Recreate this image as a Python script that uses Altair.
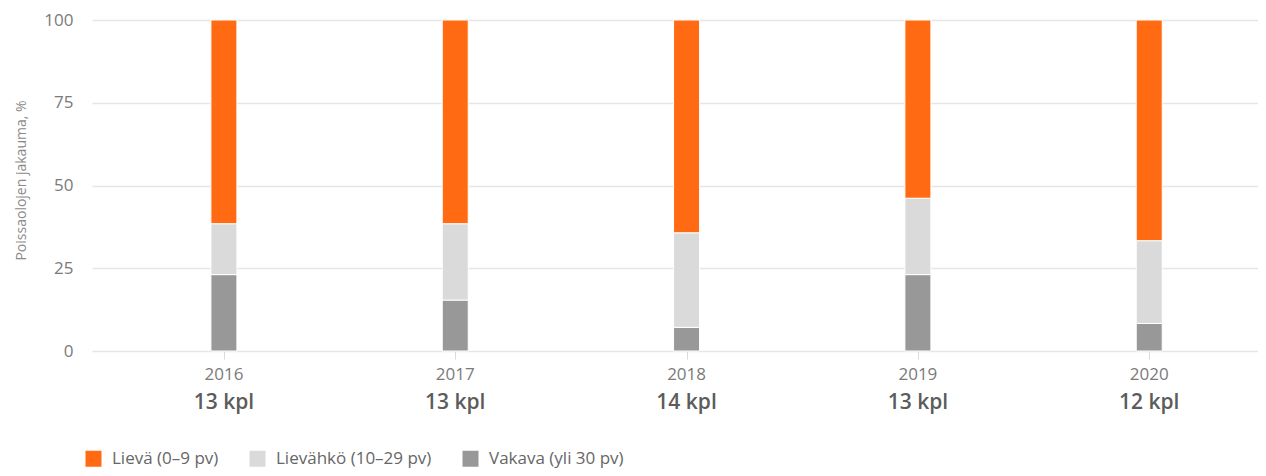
import altair as alt
import pandas as pd

years = [2016, 2017, 2018, 2019, 2020]
totals = [13, 13, 14, 13, 12]
kpl_labels = ["13 kpl", "13 kpl", "14 kpl", "13 kpl", "12 kpl"]
categories = ["Lievä (0–9 pv)", "Lievähkö (10–29 pv)", "Vakava (yli 30 pv)"]
colors = ["#ff6a13", "#dadada", "#989898"]
# counts of absences per category for each year
lieva = [8, 8, 9, 7, 8]
lievahko = [2, 3, 4, 3, 3]
vakava = [3, 2, 1, 3, 1]

rows = []
for i, y in enumerate(years):
    for cat, vals, order in [(categories[2], vakava, 0), (categories[1], lievahko, 1), (categories[0], lieva, 2)]:
        rows.append({"year": y, "cat": cat, "pct": vals[i] / totals[i] * 100, "ord": order})
df = pd.DataFrame(rows)
lab = pd.DataFrame({"year": years, "kpl": kpl_labels, "ylab": [str(y) for y in years]})

FONT = "Open Sans"
W, H = 1166, 331

xscale = alt.Scale(domain=[2015.4514, 2020.4486], nice=False, zero=False)

bars = alt.Chart(df).mark_bar(size=26, stroke="white", strokeWidth=1).encode(
    x=alt.X("year:Q", scale=xscale,
            axis=alt.Axis(values=years, labels=False, domain=False, grid=False,
                          ticks=True, tickSize=8, tickColor="#d9d9d9", tickWidth=1, title=None)),
    y=alt.Y("pct:Q", stack="zero", scale=alt.Scale(domain=[0, 100], nice=False),
            axis=alt.Axis(values=[0, 25, 50, 75, 100], grid=True, gridColor="#e6e6e6", gridWidth=1.5,
                          domain=False, ticks=False, tickSize=0, labelPadding=19,
                          labelFont=FONT, labelFontSize=17, labelColor="#7a7a7a",
                          title="Poissaolojen jakauma, %", titleFont=FONT, titleFontSize=14,
                          titleFontWeight="normal", titleColor="#8a8a8a",
                          titleX=-64, titleY=160, titleAngle=-90, titleAlign="center",
                          titleBaseline="bottom")),
    color=alt.Color("cat:N", scale=alt.Scale(domain=categories, range=colors),
                    legend=alt.Legend(title=None, orient="none", legendX=-7, legendY=430,
                                      direction="horizontal", symbolType="square", symbolSize=256,
                                      symbolStrokeWidth=0, labelFont=FONT, labelFontSize=17,
                                      labelColor="#666666", labelOffset=10, columnPadding=30)),
    order=alt.Order("ord:Q", sort="ascending"),
)

year_text = alt.Chart(lab).mark_text(font=FONT, fontSize=17, color="#7a7a7a", baseline="alphabetic", align="center").encode(
    x=alt.X("year:Q", scale=xscale),
    y=alt.value(H + 29),
    text="ylab:N",
)

kpl_text = alt.Chart(lab).mark_text(font=FONT, fontSize=21, fontWeight=600, color="#5c5c5c", baseline="alphabetic", align="center").encode(
    x=alt.X("year:Q", scale=xscale),
    y=alt.value(H + 58),
    text="kpl:N",
)

chart = alt.layer(bars, year_text, kpl_text).properties(
    width=W, height=H,
    autosize=alt.AutoSizeParams(type="none"),
    padding={"left": 84, "top": 12, "right": 0, "bottom": 117},
).configure_view(stroke=None)

chart.save("out.html", embed_options={"renderer": "svg", "actions": False})
